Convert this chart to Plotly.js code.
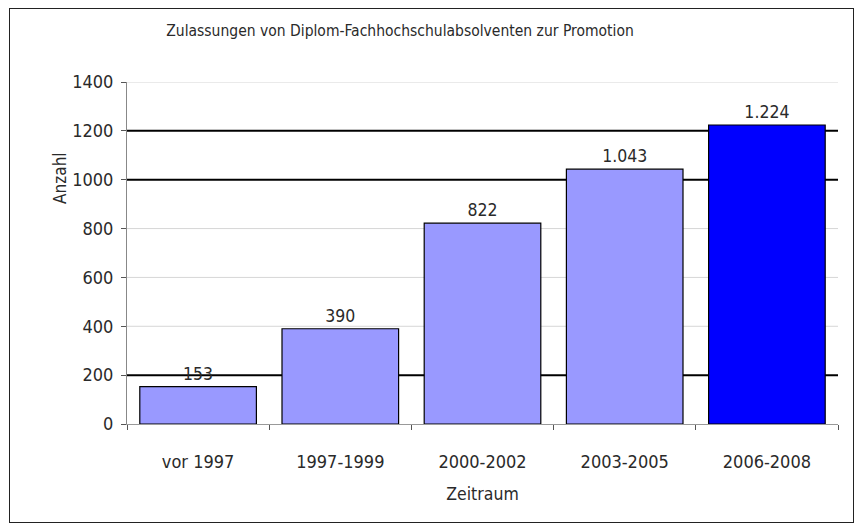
<!DOCTYPE html>
<html><head><meta charset="utf-8">
<script src="https://cdn.plot.ly/plotly-3.0.1.min.js"></script>
<style>
body{margin:0;background:#fff}
#c{width:864px;height:529px;position:absolute;left:0;top:0}
#frame{position:absolute;left:9px;top:8px;width:843px;height:513px;border:1px solid #222;pointer-events:none}
</style></head><body>
<div id="c"></div><div id="frame"></div>
<script>
const categories = ["vor 1997","1997-1999","2000-2002","2003-2005","2006-2008"];
const values = [153, 390, 822, 1043, 1224];
const barColors = ["#9999FF","#9999FF","#9999FF","#9999FF","#0000FF"];
const darkGridValues = [200, 1000, 1200];
const lightGridValues = [400, 600, 800, 1400];
const tickVals = [0,200,400,600,800,1000,1200,1400];

const FONT = "'DejaVu Sans Condensed','Liberation Sans Narrow','Liberation Sans',sans-serif";
const TXT = '#2a2a2a';

const shapes = lightGridValues.map(v => ({
  type:'line', xref:'paper', yref:'y', x0:0, x1:1, y0:v, y1:v,
  line:{color:'#d6d6d6', width:1}, layer:'below'
})).concat(darkGridValues.map(v => ({
  type:'line', xref:'paper', yref:'y', x0:0, x1:1, y0:v, y1:v,
  line:{color:'#000', width:2}, layer:'below'
})));

Plotly.newPlot('c', [{
  type:'bar', x:categories, y:values,
  marker:{color:barColors, line:{color:'#000', width:1.2}},
  text: values, texttemplate:'%{y:,}', textposition:'outside',
  textfont:{family:FONT, size:17.5, color:TXT}, cliponaxis:false,
  hoverinfo:'none'
}], {
  width:864, height:529,
  margin:{l:127, r:26, t:82, b:105},
  paper_bgcolor:'#fff', plot_bgcolor:'#fff',
  separators:',.',
  bargap:0.18,
  showlegend:false,
  font:{family:FONT, size:18, color:TXT},
  title:{text:'Zulassungen von Diplom-Fachhochschulabsolventen zur Promotion',
    font:{family:FONT, size:15.5, color:TXT}, x:0.384, xanchor:'center', xref:'paper', y:0.943, yanchor:'middle'},
  xaxis:{type:'category', showgrid:false, showline:true, linecolor:'#999', linewidth:1,
    ticks:'outside', tickson:'boundaries', ticklen:5, tickcolor:'#555',
    ticklabelstandoff:21,
    tickfont:{family:FONT, size:18, color:TXT},
    title:{text:'Zeitraum', font:{family:FONT, size:17.5, color:TXT}, standoff:17}},
  yaxis:{range:[0,1400], tickvals:tickVals, showgrid:false,
    showline:true, linecolor:'#888', linewidth:1, ticks:'outside', ticklen:5, tickcolor:'#555',
    ticklabelstandoff:4,
    zeroline:false, tickfont:{family:FONT, size:18, color:TXT}},
  shapes: shapes,
  annotations:[{text:'Anzahl', textangle:-90, xref:'paper', yref:'paper', x:-0.094, y:0.72,
    showarrow:false, font:{family:FONT, size:17, color:TXT}, xanchor:'center', yanchor:'middle'}]
}, {staticPlot:true});
</script></body></html>
